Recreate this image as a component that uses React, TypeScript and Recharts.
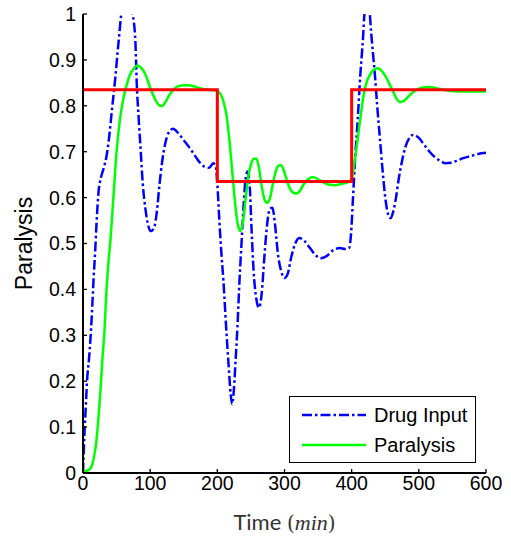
import React from 'react';
import { LineChart, Line, XAxis, YAxis, Legend, Label } from 'recharts';

const timeTicks = [0, 100, 200, 300, 400, 500, 600];
const levelTicks = [0, 0.1, 0.2, 0.3, 0.4, 0.5, 0.6, 0.7, 0.8, 0.9, 1];

// [time (min), value]
const drugInput: [number, number][] = [
  [0, 0], [2, 0.08], [4, 0.14], [6, 0.2], [9, 0.25], [11, 0.29], [13, 0.34], [16, 0.43],
  [18, 0.48], [20, 0.54], [23, 0.61], [27, 0.645], [31, 0.665], [35, 0.69], [38, 0.72],
  [43, 0.79], [48, 0.86], [53, 0.94], [57, 1.0], [65, 1.05], [74, 1.0], [78, 0.94],
  [80, 0.85], [83, 0.77], [86, 0.7], [89, 0.63], [93, 0.575], [97, 0.54], [101, 0.527],
  [106, 0.535], [110, 0.57], [114, 0.63], [118, 0.68], [122, 0.715], [127, 0.74],
  [134, 0.75], [142, 0.74], [150, 0.725], [158, 0.71], [165, 0.695], [172, 0.68],
  [180, 0.668], [188, 0.665], [194, 0.675], [198, 0.665], [200, 0.63], [203, 0.55],
  [206, 0.48], [209, 0.42], [213, 0.32], [217, 0.23], [220, 0.17], [222, 0.15],
  [224, 0.17], [227, 0.24], [230, 0.32], [233, 0.42], [236, 0.5], [239, 0.58],
  [242, 0.64], [245, 0.657], [248, 0.63], [251, 0.53], [254, 0.44], [258, 0.38],
  [262, 0.36], [266, 0.39], [270, 0.47], [274, 0.54], [278, 0.575], [282, 0.578],
  [286, 0.54], [290, 0.48], [295, 0.44], [300, 0.425], [305, 0.435], [310, 0.47],
  [316, 0.5], [322, 0.512], [330, 0.505], [338, 0.49], [346, 0.475], [354, 0.468],
  [362, 0.472], [372, 0.485], [382, 0.49], [390, 0.488], [396, 0.49], [399, 0.52],
  [402, 0.6], [405, 0.68], [409, 0.77], [413, 0.87], [417, 0.95], [419, 1.0],
  [423, 1.03], [427, 1.0], [429, 0.96], [432, 0.91], [435, 0.86], [438, 0.8],
  [442, 0.73], [446, 0.66], [450, 0.6], [454, 0.565], [458, 0.555], [462, 0.57],
  [466, 0.6], [470, 0.64], [475, 0.68], [480, 0.71], [486, 0.73], [492, 0.737],
  [500, 0.73], [508, 0.715], [516, 0.7], [524, 0.688], [532, 0.68], [540, 0.675],
  [548, 0.676], [556, 0.68], [566, 0.686], [576, 0.69], [586, 0.694], [596, 0.697],
  [600, 0.698],
];

const paralysis: [number, number][] = [
  [0, 0.005], [5, 0.005], [10, 0.008], [14, 0.02], [17, 0.04], [20, 0.07], [23, 0.12],
  [26, 0.18], [29, 0.25], [32, 0.31], [35, 0.4], [38, 0.46], [41, 0.51], [45, 0.595],
  [50, 0.7], [55, 0.77], [60, 0.815], [65, 0.845], [70, 0.868], [75, 0.88], [81, 0.888],
  [87, 0.882], [93, 0.868], [100, 0.84], [106, 0.818], [112, 0.803], [117, 0.799],
  [122, 0.806], [128, 0.822], [135, 0.836], [142, 0.843], [150, 0.845], [158, 0.845],
  [166, 0.842], [175, 0.838], [185, 0.835], [194, 0.834], [200, 0.832], [205, 0.825],
  [210, 0.805], [214, 0.776], [218, 0.725], [222, 0.66], [226, 0.595], [230, 0.545],
  [234, 0.527], [238, 0.545], [242, 0.595], [246, 0.645], [250, 0.672], [254, 0.684],
  [258, 0.685], [262, 0.665], [266, 0.625], [270, 0.597], [274, 0.589], [278, 0.597],
  [282, 0.625], [286, 0.652], [290, 0.668], [294, 0.671], [298, 0.663], [302, 0.645],
  [306, 0.627], [310, 0.615], [314, 0.61], [318, 0.609], [322, 0.613], [328, 0.628],
  [335, 0.64], [342, 0.645], [350, 0.64], [358, 0.633], [366, 0.628], [375, 0.627],
  [385, 0.63], [395, 0.634], [400, 0.64], [402, 0.655], [406, 0.695], [410, 0.74],
  [414, 0.785], [418, 0.825], [422, 0.85], [427, 0.867], [432, 0.877], [437, 0.882],
  [442, 0.88], [447, 0.872], [452, 0.86], [457, 0.845], [462, 0.83], [467, 0.815],
  [472, 0.808], [477, 0.81], [483, 0.818], [490, 0.828], [498, 0.836], [506, 0.84],
  [515, 0.841], [525, 0.839], [536, 0.835], [548, 0.832], [560, 0.831], [575, 0.831],
  [590, 0.831], [600, 0.831],
];

// reference level, held between switch times
const reference: [number, number][] = [[0, 0.835], [200, 0.635], [400, 0.835], [600, 0.835]];

const toRows = (pts: [number, number][]) => pts.map(([t, v]) => ({ t, v }));

const FONT = '"Liberation Sans", Arial, Helvetica, sans-serif';
const DASH = '10 3 2.5 3';

const fmtLevel = (v: number) => (v === 0 ? '0' : v === 1 ? '1' : v.toFixed(1));

const LegendBox = (props: any) => {
  const items = (props.payload || []).filter((p: any) => p.type !== 'none');
  return (
    <div style={{ width: 187, height: 67, border: '1.3px solid #000', boxSizing: 'border-box', background: '#fff', fontFamily: FONT, fontSize: 20, color: '#000' }}>
      {items.map((it: any, i: number) => (
        <div key={i} style={{ display: 'flex', alignItems: 'center', height: 30, marginTop: i === 0 ? 3 : 0 }}>
          <svg width={84} height={30}>
            <line x1={12} x2={76} y1={15} y2={15} stroke={it.color} strokeWidth={2.7}
              strokeDasharray={it.value === 'Drug Input' ? DASH : undefined} />
          </svg>
          <span>{it.value}</span>
        </div>
      ))}
    </div>
  );
};

const XTitle = (props: any) => {
  const { x, y, width } = props.viewBox;
  return (
    <text x={x + width / 2} y={y + 57} textAnchor="middle" fontSize={22} fill="#333">
      <tspan fontFamily="Lato, Carlito, sans-serif">Time </tspan>
      <tspan fontFamily="'DejaVu Serif', serif" fontSize={20}>(</tspan>
      <tspan fontFamily="'Liberation Serif', serif" fontStyle="italic">min</tspan>
      <tspan fontFamily="'DejaVu Serif', serif" fontSize={20}>)</tspan>
    </text>
  );
};

const YTitle = (props: any) => {
  const { y, height } = props.viewBox;
  const cy = y + height / 2;
  return (
    <text x={24} y={cy} transform={`rotate(-90 24 ${cy})`} textAnchor="middle" dominantBaseline="central"
      fontFamily={FONT} fontSize={23} fill="#000">
      Paralysis
    </text>
  );
};

export default function App() {
  return (
    <div style={{ position: 'absolute', left: 0, top: 0, background: '#fff' }}>
      <LineChart width={511} height={539} margin={{ top: 14, right: 25, bottom: 36, left: 8 }}>
        <XAxis xAxisId="b" dataKey="t" type="number" domain={[0, 600]} ticks={timeTicks}
          allowDataOverflow height={30} tickSize={-4} tickMargin={7}
          axisLine={{ stroke: '#000', strokeWidth: 1.8 }} tickLine={{ stroke: '#000', strokeWidth: 1.3 }}
          tick={{ fill: '#000', fontSize: 19.5, fontFamily: FONT }}>
          <Label content={XTitle} />
        </XAxis>
        <XAxis xAxisId="t" orientation="top" dataKey="t" type="number" domain={[0, 600]} ticks={timeTicks}
          height={0} tickSize={-4} tick={false}
          axisLine={{ stroke: '#000', strokeWidth: 1.3 }} tickLine={{ stroke: '#000', strokeWidth: 1.3 }} />
        <YAxis yAxisId="l" type="number" domain={[0, 1]} ticks={levelTicks} allowDataOverflow
          width={75} tickSize={-4} tickMargin={11} tickFormatter={fmtLevel}
          axisLine={{ stroke: '#000', strokeWidth: 2 }} tickLine={{ stroke: '#000', strokeWidth: 1.3 }}
          tick={{ fill: '#000', fontSize: 19.5, fontFamily: FONT }}>
          <Label content={YTitle} />
        </YAxis>
        <YAxis yAxisId="r" orientation="right" type="number" domain={[0, 1]} ticks={levelTicks}
          width={0} tickSize={-4} tick={false}
          axisLine={{ stroke: '#000', strokeWidth: 1.3 }} tickLine={{ stroke: '#000', strokeWidth: 1.3 }} />
        <Line data={toRows(drugInput)} dataKey="v" name="Drug Input" xAxisId="b" yAxisId="l"
          type="monotone" stroke="#0000ff" strokeWidth={2.5} strokeDasharray={DASH}
          dot={false} activeDot={false} isAnimationActive={false} />
        <Line data={toRows(paralysis)} dataKey="v" name="Paralysis" xAxisId="b" yAxisId="l"
          type="monotone" stroke="#00ff00" strokeWidth={2.5}
          dot={false} activeDot={false} isAnimationActive={false} />
        <Line data={toRows(reference)} dataKey="v" name="Reference" xAxisId="b" yAxisId="l"
          type="stepAfter" stroke="#ff0000" strokeWidth={3} legendType="none"
          dot={false} activeDot={false} isAnimationActive={false} />
        <Legend layout="vertical" align="center" verticalAlign="middle" content={LegendBox}
          wrapperStyle={{ position: 'absolute', left: 289, top: 396, width: 187, height: 67 }} />
      </LineChart>
    </div>
  );
}
